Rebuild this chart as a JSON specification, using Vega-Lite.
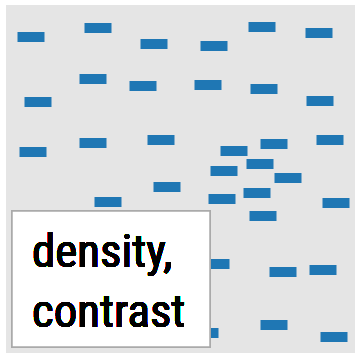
{
  "$schema": "https://vega.github.io/schema/vega-lite/v6.json",
  "autosize": {"type": "none"},
  "width": 349,
  "height": 348,
  "padding": {"left": 6, "top": 5, "right": 0, "bottom": 0},
  "background": "white",
  "config": {"view": {"fill": "#e5e5e5", "stroke": null}},
  "data": {"values": [
    {"px": 31, "py": 37}, {"px": 98, "py": 28}, {"px": 154, "py": 44},
    {"px": 93, "py": 79}, {"px": 143, "py": 86}, {"px": 38, "py": 102},
    {"px": 33, "py": 152}, {"px": 93, "py": 143}, {"px": 161, "py": 140},
    {"px": 262, "py": 27}, {"px": 319, "py": 33}, {"px": 214, "py": 46},
    {"px": 208, "py": 85}, {"px": 264, "py": 89}, {"px": 320, "py": 101},
    {"px": 330, "py": 140}, {"px": 274, "py": 144}, {"px": 234, "py": 151},
    {"px": 260, "py": 164}, {"px": 224, "py": 171}, {"px": 288, "py": 178},
    {"px": 222, "py": 199}, {"px": 257, "py": 193}, {"px": 336, "py": 203},
    {"px": 263, "py": 216}, {"px": 216, "py": 264}, {"px": 283, "py": 272},
    {"px": 323, "py": 270}, {"px": 274, "py": 325}, {"px": 334, "py": 337},
    {"px": 205, "py": 333}, {"px": 108, "py": 202}, {"px": 167, "py": 187}
  ]},
  "layer": [
    {
      "mark": {"type": "tick", "orient": "horizontal", "size": 27, "thickness": 10, "color": "#1f77b4", "opacity": 1},
      "encoding": {
        "x": {"field": "px", "type": "quantitative", "scale": {"domain": [6, 355], "nice": false, "zero": false}, "axis": null},
        "y": {"field": "py", "type": "quantitative", "scale": {"domain": [5, 353], "nice": false, "zero": false, "reverse": true}, "axis": null}
      }
    },
    {
      "mark": {"type": "rect", "fill": "white", "stroke": "#aaaaaa", "strokeWidth": 1.5},
      "encoding": {
        "x": {"datum": 12, "type": "quantitative"},
        "x2": {"datum": 210},
        "y": {"datum": 211, "type": "quantitative"},
        "y2": {"datum": 347}
      }
    },
    {
      "mark": {"type": "text", "align": "left", "baseline": "alphabetic", "font": "'Roboto Condensed', sans-serif", "fontWeight": 400, "fontSize": 47, "lineHeight": 60, "color": "black"},
      "encoding": {
        "x": {"datum": 32, "type": "quantitative"},
        "y": {"datum": 267, "type": "quantitative"},
        "text": {"value": ["density,", "contrast"]}
      }
    }
  ]
}
